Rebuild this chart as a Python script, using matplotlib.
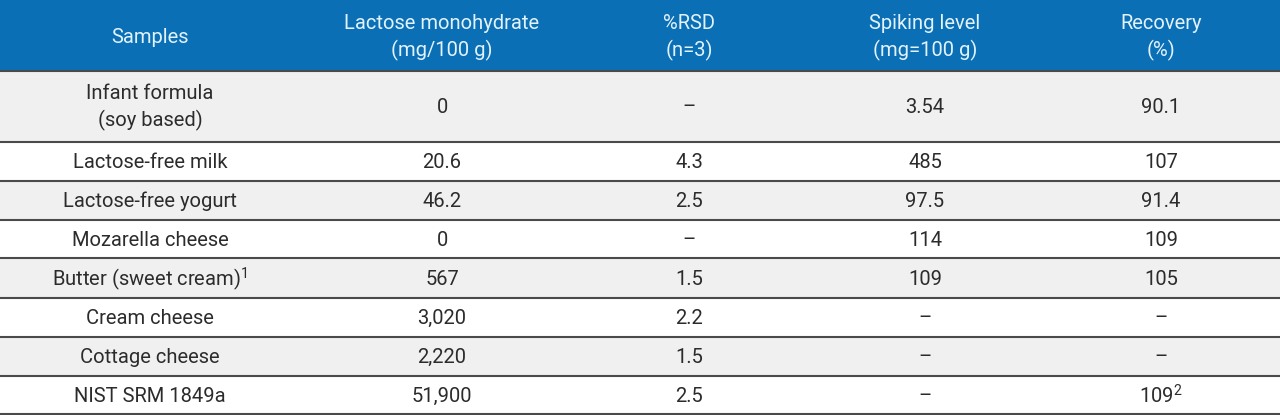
import matplotlib
matplotlib.use("Agg")
import matplotlib.pyplot as plt
from matplotlib.patches import Rectangle

plt.rcParams["font.family"] = "Roboto"
plt.rcParams["mathtext.fontset"] = "custom"
plt.rcParams["mathtext.rm"] = "Roboto"

headers = ["Samples", "Lactose monohydrate\n(mg/100 g)", "%RSD\n(n=3)",
           "Spiking level\n(mg=100 g)", "Recovery\n(%)"]
samples = ["Infant formula\n(soy based)", "Lactose-free milk", "Lactose-free yogurt",
           "Mozarella cheese", "Butter (sweet cream)$^{1}$", "Cream cheese",
           "Cottage cheese", "NIST SRM 1849a"]
lactose = ["0", "20.6", "46.2", "0", "567", "3,020", "2,220", "51,900"]
rsd = ["–", "4.3", "2.5", "–", "1.5", "2.2", "1.5", "2.5"]
spiking = ["3.54", "485", "97.5", "114", "109", "–", "–", "–"]
recovery = ["90.1", "107", "91.4", "109", "105", "–", "–", "109$^{2}$"]

W, H = 1280, 415
col_x = [150, 442, 689, 925, 1161]
row_edges = [71, 142, 181, 220, 258, 298, 337, 376, 414]

fig = plt.figure(figsize=(12.8, 4.15), dpi=100)
ax = fig.add_axes([0, 0, 1, 1])
ax.set_xlim(0, W)
ax.set_ylim(H, 0)
ax.axis("off")

ax.add_patch(Rectangle((0, 0), W, row_edges[0], color="#0b6fb6", lw=0))
for x, h in zip(col_x, headers):
    ax.text(x, row_edges[0] / 2 + 2, h, ha="center", va="center", color="#e3f3fc",
            fontsize=14.5, linespacing=1.45)

columns = [samples, lactose, rsd, spiking, recovery]
for i in range(len(samples)):
    top, bot = row_edges[i], row_edges[i + 1]
    if i % 2 == 0:
        ax.add_patch(Rectangle((0, top), W, bot - top, color="#f0f0f0", lw=0))
    ax.plot([0, W], [bot, bot], color="#4a4a4a", lw=1.5)
    for x, col in zip(col_x, columns):
        ax.text(x, (top + bot) / 2 + 1, col[i], ha="center", va="center",
                color="#2b2b2b", fontsize=14.5, linespacing=1.45)
ax.plot([0, W], [row_edges[0], row_edges[0]], color="#4a4a4a", lw=1.5)

fig.savefig("out.png", dpi=100)
